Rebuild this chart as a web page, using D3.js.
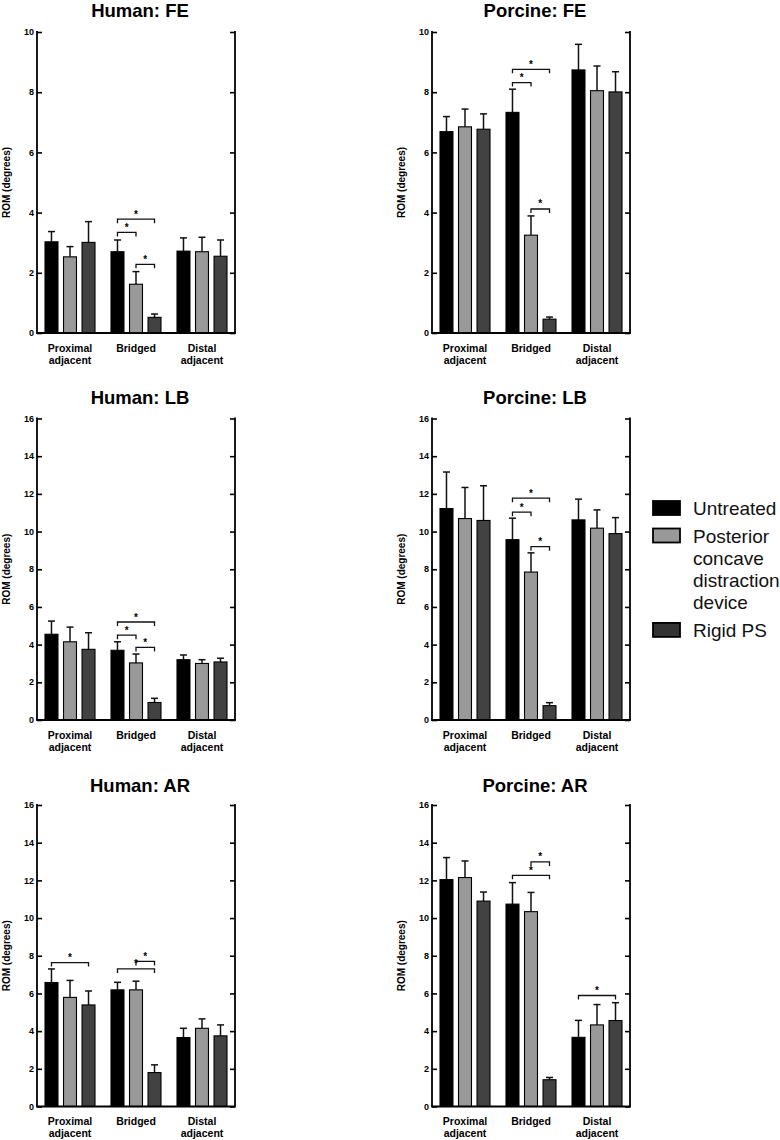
<!DOCTYPE html>
<html>
<head>
<meta charset="utf-8">
<script src="https://cdn.jsdelivr.net/npm/d3@7"></script>
<style>
  body { margin: 0; background: #fff; }
  svg { display: block; font-family: "Liberation Sans", Arial, Helvetica, sans-serif; }
</style>
</head>
<body>
<svg id="chart" width="780" height="1140"></svg>
<script>
// categories and series
const categories = [['Proximal', 'adjacent'], ['Bridged'], ['Distal', 'adjacent']];
const seriesNames = ['Untreated', 'Posterior concave distraction device', 'Rigid PS'];
const legendLines = [['Untreated'], ['Posterior', 'concave', 'distraction', 'device'], ['Rigid PS']];
const seriesColors = ['#000000', '#999999', '#424242'];

const ticksFE = [0, 2, 4, 6, 8, 10];
const ticksLBAR = [0, 2, 4, 6, 8, 10, 12, 14, 16];

// means per category (rows) and series (columns), plus SD (upper error bar only)
const humanFE = [[3.03, 2.53, 3.01], [2.70, 1.62, 0.52], [2.72, 2.70, 2.55]];
const humanFESd = [[0.34, 0.34, 0.69], [0.39, 0.42, 0.11], [0.44, 0.48, 0.54]];
const porcineFE = [[6.69, 6.85, 6.77], [7.33, 3.25, 0.46], [8.74, 8.05, 8.01]];
const porcineFESd = [[0.50, 0.59, 0.51], [0.77, 0.64, 0.07], [0.85, 0.82, 0.67]];
const humanLB = [[4.55, 4.15, 3.75], [3.70, 3.03, 0.93], [3.20, 3.00, 3.08]];
const humanLBSd = [[0.70, 0.78, 0.88], [0.45, 0.47, 0.22], [0.25, 0.20, 0.20]];
const porcineLB = [[11.22, 10.69, 10.59], [9.57, 7.85, 0.76], [10.62, 10.18, 9.89]];
const porcineLBSd = [[1.94, 1.65, 1.84], [1.14, 1.02, 0.16], [1.10, 0.97, 0.85]];
const humanAR = [[6.58, 5.79, 5.39], [6.19, 6.19, 1.80], [3.66, 4.15, 3.75]];
const humanARSd = [[0.72, 0.90, 0.74], [0.40, 0.46, 0.41], [0.49, 0.50, 0.58]];
const porcineAR = [[12.04, 12.15, 10.90], [10.74, 10.34, 1.42], [3.67, 4.33, 4.56]];
const porcineARSd = [[1.17, 0.88, 0.48], [1.14, 1.02, 0.12], [0.90, 1.08, 0.95]];

// significance brackets: category index, from series, to series, bracket height
const humanFESig = [[1, 0, 2, 3.78], [1, 0, 1, 3.34], [1, 1, 2, 2.28]];
const porcineFESig = [[1, 0, 2, 8.76], [1, 0, 1, 8.32], [1, 1, 2, 4.12]];
const humanLBSig = [[1, 0, 2, 5.20], [1, 0, 1, 4.50], [1, 1, 2, 3.85]];
const porcineLBSig = [[1, 0, 2, 11.77], [1, 0, 1, 11.03], [1, 1, 2, 9.20]];
const humanARSig = [[0, 0, 2, 7.64], [1, 1, 2, 7.70], [1, 0, 2, 7.30]];
const porcineARSig = [[1, 1, 2, 12.98], [1, 0, 2, 12.27], [2, 0, 2, 5.89]];

const svg = d3.select('#chart');

const columns = [[37, 235], [432, 630]];
const rows = [
  { top: 32, bottom: 333, titleY: 16.5 },
  { top: 418.5, bottom: 720, titleY: 403.5 },
  { top: 805, bottom: 1106.5, titleY: 791.5 }
];

const panels = [
  { title: 'Human: FE', col: 0, row: 0, max: 10, ticks: ticksFE, mean: humanFE, sd: humanFESd, sig: humanFESig },
  { title: 'Porcine: FE', col: 1, row: 0, max: 10, ticks: ticksFE, mean: porcineFE, sd: porcineFESd, sig: porcineFESig },
  { title: 'Human: LB', col: 0, row: 1, max: 16, ticks: ticksLBAR, mean: humanLB, sd: humanLBSd, sig: humanLBSig },
  { title: 'Porcine: LB', col: 1, row: 1, max: 16, ticks: ticksLBAR, mean: porcineLB, sd: porcineLBSd, sig: porcineLBSig },
  { title: 'Human: AR', col: 0, row: 2, max: 16, ticks: ticksLBAR, mean: humanAR, sd: humanARSd, sig: humanARSig },
  { title: 'Porcine: AR', col: 1, row: 2, max: 16, ticks: ticksLBAR, mean: porcineAR, sd: porcineARSd, sig: porcineARSig }
];

const drawPanel = (p) => {
  const [x0, x1] = columns[p.col];
  const { top, bottom, titleY } = rows[p.row];
  const g = svg.append('g');

  const x = d3.scaleBand()
    .domain(d3.range(categories.length))
    .range([x0, x1]);

  const xs = d3.scaleBand()
    .domain(d3.range(seriesNames.length))
    .range([-25, 25])
    .paddingInner(0.3);

  const y = d3.scaleLinear()
    .domain([0, p.max])
    .range([bottom, top]);

  const barX = (c, s) => x(c) + x.bandwidth() / 2 + xs(s);
  const barMid = (c, s) => barX(c, s) + xs.bandwidth() / 2;

  /* title */
  g.append('text')
    .attr('x', (x0 + x1) / 2 + 4)
    .attr('y', titleY)
    .attr('text-anchor', 'middle')
    .attr('font-size', 18.5)
    .attr('font-weight', 'bold')
    .text(p.title);

  const cells = [];
  p.mean.forEach((row, c) => row.forEach((v, s) => cells.push({ c, s, v, sd: p.sd[c][s] })));

  /* error bars (upper only) */
  g.selectAll('line.err')
    .data(cells)
    .join('line')
    .attr('x1', d => barMid(d.c, d.s))
    .attr('x2', d => barMid(d.c, d.s))
    .attr('y1', d => y(d.v))
    .attr('y2', d => y(d.v + d.sd))
    .attr('stroke', '#111')
    .attr('stroke-width', 1.5);

  g.selectAll('line.cap')
    .data(cells)
    .join('line')
    .attr('x1', d => barMid(d.c, d.s) - 3.5)
    .attr('x2', d => barMid(d.c, d.s) + 3.5)
    .attr('y1', d => y(d.v + d.sd))
    .attr('y2', d => y(d.v + d.sd))
    .attr('stroke', '#111')
    .attr('stroke-width', 1.5);

  /* bars */
  g.selectAll('rect.bar')
    .data(cells)
    .join('rect')
    .attr('x', d => barX(d.c, d.s))
    .attr('y', d => y(d.v))
    .attr('width', xs.bandwidth())
    .attr('height', d => y(0) - y(d.v))
    .attr('fill', d => seriesColors[d.s])
    .attr('stroke', '#000')
    .attr('stroke-width', 1.1);

  /* significance brackets */
  p.sig.forEach(([c, a, b, h]) => {
    const xa = barMid(c, a);
    const xb = barMid(c, b);
    const yy = y(h);
    g.append('path')
      .attr('d', `M${xa},${yy + 4}V${yy}H${xb}V${yy + 4}`)
      .attr('fill', 'none')
      .attr('stroke', '#111')
      .attr('stroke-width', 1.3);
    g.append('text')
      .attr('x', (xa + xb) / 2)
      .attr('y', yy - 1.5)
      .attr('text-anchor', 'middle')
      .attr('font-size', 10)
      .attr('font-weight', 'bold')
      .text('*');
  });

  /* axes: left, right with inward ticks, bottom */
  const leftAxis = d3.axisRight(y).tickValues(p.ticks).tickSize(5).tickFormat('');
  const rightAxis = d3.axisLeft(y).tickValues(p.ticks).tickSize(5).tickFormat('');

  const la = g.append('g').attr('transform', `translate(${x0},0)`).call(leftAxis);
  const ra = g.append('g').attr('transform', `translate(${x1},0)`).call(rightAxis);
  [la, ra].forEach(a => {
    a.select('.domain').attr('stroke', '#000').attr('stroke-width', 1.8).attr('d', `M0,${top - 0.9}V${bottom}`);
    a.selectAll('.tick line').attr('stroke', '#000').attr('stroke-width', 1.6);
  });

  g.selectAll('text.tick')
    .data(p.ticks)
    .join('text')
    .attr('x', x0 - 3)
    .attr('y', d => y(d))
    .attr('dy', '0.35em')
    .attr('text-anchor', 'end')
    .attr('font-size', 9)
    .attr('font-weight', 'bold')
    .text(d => d);

  g.append('line')
    .attr('x1', x0 - 0.9)
    .attr('x2', x1 + 0.9)
    .attr('y1', bottom)
    .attr('y2', bottom)
    .attr('stroke', '#000')
    .attr('stroke-width', 1.8);

  /* y label */
  g.append('text')
    .attr('transform', `translate(${x0 - 31},${(top + bottom) / 2}) rotate(-90)`)
    .attr('text-anchor', 'middle')
    .attr('dominant-baseline', 'central')
    .attr('font-size', 10)
    .attr('font-weight', 'bold')
    .text('ROM (degrees)');

  /* category labels */
  categories.forEach((lines, c) => {
    lines.forEach((t, i) => {
      g.append('text')
        .attr('x', x(c) + x.bandwidth() / 2)
        .attr('y', bottom + 18.7 + i * 12)
        .attr('text-anchor', 'middle')
        .attr('font-size', 10.5)
        .attr('font-weight', 'bold')
        .text(t);
    });
  });
};

panels.forEach(drawPanel);

/* legend */
const legend = svg.append('g');
let baseY = 515;
legendLines.forEach((lines, s) => {
  legend.append('rect')
    .attr('x', 653)
    .attr('y', baseY - 14)
    .attr('width', 27)
    .attr('height', 14)
    .attr('fill', s === 2 ? '#333333' : seriesColors[s])
    .attr('stroke', '#000')
    .attr('stroke-width', 1.8);
  lines.forEach((t, i) => {
    legend.append('text')
      .attr('x', 693)
      .attr('y', baseY + i * 22.3)
      .attr('font-size', 19)
      .attr('fill', '#111')
      .text(t);
  });
  baseY += (lines.length - 1) * 22.3 + 27.5;
});
</script>
</body>
</html>
